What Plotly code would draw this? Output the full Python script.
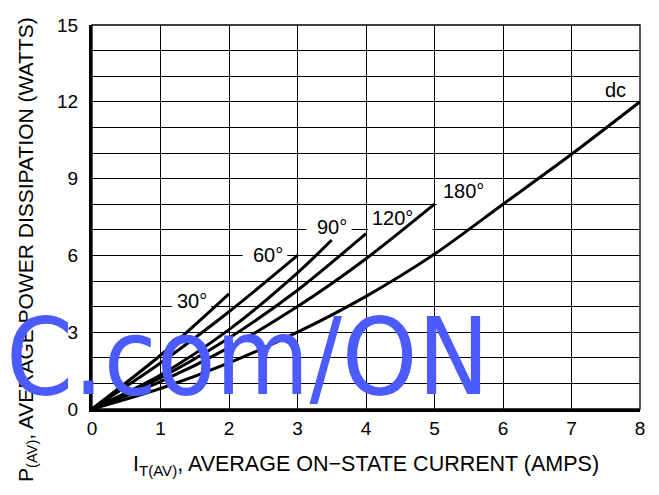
import plotly.graph_objects as go

# ---- data ----
I_dc = [0, 1, 2, 3, 4, 5, 6, 7, 8]
P_dc = [0, 0.8, 1.8, 3.0, 4.4, 6.05, 8.0, 9.95, 12.0]

I_180 = [0, 1, 2, 3, 4, 5]
P_180 = [0, 1.07, 2.4, 4.0, 5.87, 8.0]

I_120 = [0, 1, 2, 3, 4]
P_120 = [0, 1.22, 2.77, 4.64, 6.85]

I_90 = [0, 1, 2, 3, 3.5]
P_90 = [0, 1.33, 3.1, 5.32, 6.6]

I_60 = [0, 1, 2, 3]
P_60 = [0, 1.8, 3.8, 6.0]

I_30 = [0, 1, 2]
P_30 = [0, 2.1, 4.5]

x_ticks = [0, 1, 2, 3, 4, 5, 6, 7, 8]
y_ticks = [0, 3, 6, 9, 12, 15]

curve_labels = ["30°", "60°", "90°", "120°", "180°", "dc"]
label_x = [1.46, 2.57, 3.51, 4.38, 5.42, 7.64]
label_y = [4.2, 6.0, 7.11, 7.48, 8.5, 12.46]
# white patches behind labels (hide the grid there): x0, x1, y0, y1
patch_x0 = [1.17, 2.20, 3.13, 4.03, 5.03]
patch_x1 = [1.74, 2.85, 3.79, 4.97, 5.97]
patch_y0 = [3.75, 5.60, 6.75, 6.85, 7.85]
patch_y1 = [4.60, 6.40, 7.45, 7.80, 8.85]

FONT = "Liberation Sans, Arial, Helvetica, sans-serif"

fig = go.Figure()
for xs, ys in [(I_dc, P_dc), (I_180, P_180), (I_120, P_120),
               (I_90, P_90), (I_60, P_60), (I_30, P_30)]:
    fig.add_trace(go.Scatter(x=xs, y=ys, mode="lines",
                             line=dict(color="black", width=3, shape="spline", smoothing=0.8),
                             showlegend=False, hoverinfo="skip"))

for x0, x1, y0, y1 in zip(patch_x0, patch_x1, patch_y0, patch_y1):
    fig.add_shape(type="rect", xref="x", yref="y", x0=x0, x1=x1, y0=y0, y1=y1,
                  fillcolor="white", line=dict(width=0), layer="between")

for t, lx, ly in zip(curve_labels, label_x, label_y):
    fig.add_annotation(x=lx, y=ly, xref="x", yref="y", text=t, showarrow=False,
                       font=dict(family=FONT, size=20, color="black"),
                       xanchor="center", yanchor="middle")

# axis titles
fig.add_annotation(x=0.5, y=-0.146, xref="paper", yref="paper",
                   text="I<sub>T(AV)</sub>, AVERAGE ON−STATE CURRENT (AMPS)",
                   showarrow=False, xanchor="center", yanchor="middle",
                   font=dict(family=FONT, size=21.5, color="black"))
fig.add_annotation(x=-0.1186, y=0.414, xref="paper", yref="paper",
                   text="P<sub>(AV)</sub>, AVERAGE POWER DISSIPATION (WATTS)",
                   textangle=-90, showarrow=False, xanchor="center", yanchor="middle",
                   font=dict(family=FONT, size=21, color="black"))

# watermark
fig.add_annotation(x=2.27, y=2.05, xref="x", yref="y", text="C.com/ON",
                   showarrow=False, xanchor="center", yanchor="middle",
                   font=dict(family="DejaVu Sans Condensed", size=107, color="#4B5BFF"))

# thin frame on top/right
fig.add_shape(type="rect", xref="paper", yref="paper", x0=0, y0=0, x1=1, y1=1,
              line=dict(color="black", width=1.3), layer="below")

fig.update_layout(
    width=651, height=487,
    margin=dict(l=84, r=19, t=17, b=86, autoexpand=False),
    paper_bgcolor="white", plot_bgcolor="white",
    font=dict(family=FONT, color="black"),
    xaxis=dict(range=[0, 8], tickvals=x_ticks, ticktext=[str(v) for v in x_ticks],
               showgrid=True, gridcolor="black", gridwidth=1.3, zeroline=False,
               showline=True, linecolor="black", linewidth=3,
               ticks="",
               tickfont=dict(family=FONT, size=19, color="black"), fixedrange=True),
    yaxis=dict(range=[0, 15], tickvals=y_ticks, ticktext=[str(v) for v in y_ticks],
               showgrid=True, gridcolor="black", gridwidth=1.3, zeroline=False,
               showline=True, linecolor="black", linewidth=3,
               ticks="outside", ticklen=7, tickcolor="rgba(0,0,0,0)",
               minor=dict(dtick=1, showgrid=True, gridcolor="black", gridwidth=1.3),
               tickfont=dict(family=FONT, size=19, color="black"), fixedrange=True),
)

fig.write_html("out.html")
